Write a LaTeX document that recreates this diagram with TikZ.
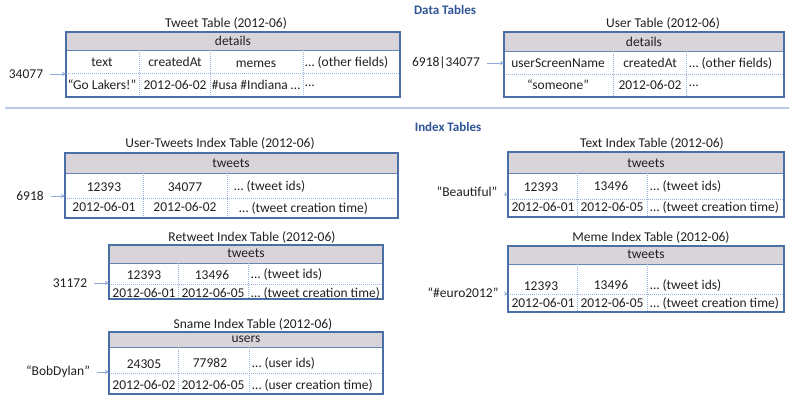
\documentclass[tikz,border=0pt]{standalone}
\usepackage{fontspec}
\setmainfont{Carlito}
\usetikzlibrary{arrows.meta}
\definecolor{frameblue}{HTML}{4A6FA5}
\definecolor{hdrgray}{HTML}{D9D4D9}
\definecolor{dotblue}{HTML}{9AB3DD}
\definecolor{arrblue}{HTML}{8EA9DB}
\definecolor{sepblue}{HTML}{B8CAE8}
\definecolor{headblue}{HTML}{2F5597}
\definecolor{txt}{HTML}{202020}
\begin{document}
\begin{tikzpicture}[x=1pt,y=-1pt,
  frame/.style={draw=frameblue,line width=1.4pt},
  hdr/.style={fill=hdrgray},
  hline/.style={draw=frameblue!85,line width=0.7pt},
  dots/.style={draw=dotblue,line width=0.6pt,dash pattern=on 1pt off 1pt},
  arr/.style={draw=arrblue,line width=0.6pt,-{Stealth[length=4pt,width=4pt]},shorten <=7pt},
  cell/.style={font=\fontsize{13.5}{14}\selectfont,text=txt,inner sep=0pt,anchor=center},
  lcell/.style={cell,anchor=west},
  ttl/.style={cell},
  key/.style={cell},
  sect/.style={font=\fontsize{13}{14}\selectfont\bfseries,text=headblue,inner sep=0pt}]
\useasboundingbox (0,0) rectangle (789,397);

% section headings and divider
\node[sect] (dt) at (445,10) {Data Tables};
\node[sect] (it) at (448,127) {Index Tables};
\coordinate (divl) at (5,108);
\coordinate (divr) at (789,108);
\draw[sepblue,line width=1.6pt] (divl) -- (divr);

% ---------------- Tweet Table ----------------
\fill[hdr] (66,32) rectangle (400,50);
\draw[hline] (66,50) -- (400,50);
\draw[dots] (66,73) -- (400,73);
\foreach \c in {139,210,303} \draw[dots] (\c,50) -- (\c,97);
\draw[frame] (66,32) rectangle (400,97);
\node[ttl] (tw-t) at (226,23) {Tweet Table (2012-06)};
\node[cell] (tw-h) at (233,41) {details};
\node[cell] (tw-a1) at (102,62) {text};
\node[cell] (tw-b1) at (175,62) {createdAt};
\node[cell] (tw-c1) at (256,64) {memes};
\node[lcell] (tw-d1) at (305,62) {… (other fields)};
\node[cell] (tw-a2) at (102,85) {“Go Lakers!”};
\node[cell] (tw-b2) at (175,85) {2012-06-02};
\node[cell] (tw-c2) at (256,85) {\#usa \#Indiana …};
\node[lcell] (tw-d2) at (305,86) {…};
\node[key] (k-tw) at (26,74) {34077};
\coordinate (tw-in) at (66,74);
\draw[arr] (k-tw.east) -- (tw-in);

% ---------------- User Table ----------------
\fill[hdr] (504,32) rectangle (784,51);
\draw[hline] (504,51) -- (784,51);
\draw[dots] (504,74) -- (784,74);
\foreach \c in {613,686} \draw[dots] (\c,51) -- (\c,97);
\draw[frame] (504,32) rectangle (784,97);
\node[ttl] (us-t) at (663,23) {User Table (2012-06)};
\node[cell] (us-h) at (644,42) {details};
\node[cell] (us-a1) at (558,63) {userScreenName};
\node[cell] (us-b1) at (650,63) {createdAt};
\node[lcell] (us-c1) at (689,63) {… (other fields)};
\node[cell] (us-a2) at (558,85) {“someone”};
\node[cell] (us-b2) at (650,85) {2012-06-02};
\node[lcell] (us-c2) at (689,86) {…};
\node[key] (k-us) at (446,63) {6918|34077};
\coordinate (us-in) at (504,63);
\draw[arr] (k-us.east) -- (us-in);

% ---------------- User-Tweets Index Table ----------------
\fill[hdr] (65,153) rectangle (398,173);
\draw[hline] (65,173) -- (398,173);
\draw[dots] (65,198) -- (398,198);
\foreach \c in {143,227} \draw[dots] (\c,173) -- (\c,218);
\draw[frame] (65,153) rectangle (398,218);
\node[ttl] (ut-t) at (220,143) {User-Tweets Index Table (2012-06)};
\node[cell] (ut-h) at (231,163) {tweets};
\node[cell] (ut-a1) at (104,187) {12393};
\node[cell] (ut-b1) at (185,187) {34077};
\node[lcell] (ut-c1) at (234,186) {… (tweet ids)};
\node[cell] (ut-a2) at (104,207) {2012-06-01};
\node[cell] (ut-b2) at (185,207) {2012-06-02};
\node[lcell] (ut-c2) at (239,208) {… (tweet creation time)};
\node[key] (k-ut) at (30,196) {6918};
\coordinate (ut-in) at (65,196);
\draw[arr] (k-ut.east) -- (ut-in);

% ---------------- Retweet Index Table ----------------
\fill[hdr] (109,245) rectangle (383,263);
\draw[hline] (109,263) -- (383,263);
\draw[dots] (109,284) -- (383,284);
\foreach \c in {178,248} \draw[dots] (\c,263) -- (\c,299);
\draw[frame] (109,245) rectangle (383,299);
\node[ttl] (rt-t) at (252,237) {Retweet Index Table (2012-06)};
\node[cell] (rt-h) at (246,253) {tweets};
\node[cell] (rt-a1) at (144,275) {12393};
\node[cell] (rt-b1) at (212,275) {13496};
\node[lcell] (rt-c1) at (251,274) {… (tweet ids)};
\node[cell] (rt-a2) at (144,293) {2012-06-01};
\node[cell] (rt-b2) at (213,293) {2012-06-05};
\node[lcell] (rt-c2) at (251,293) {… (tweet creation time)};
\node[key] (k-rt) at (70,283) {31172};
\coordinate (rt-in) at (109,283);
\draw[arr] (k-rt.east) -- (rt-in);

% ---------------- Sname Index Table ----------------
\fill[hdr] (109,332) rectangle (383,347);
\draw[hline] (109,347) -- (383,347);
\draw[dots] (109,373) -- (383,373);
\foreach \c in {178,249} \draw[dots] (\c,347) -- (\c,394);
\draw[frame] (109,332) rectangle (383,394);
\node[ttl] (sn-t) at (253,324) {Sname Index Table (2012-06)};
\node[cell] (sn-h) at (246,339) {users};
\node[cell] (sn-a1) at (144,364) {24305};
\node[cell] (sn-b1) at (210,363) {77982};
\node[lcell] (sn-c1) at (252,363) {… (user ids)};
\node[cell] (sn-a2) at (144,385) {2012-06-02};
\node[cell] (sn-b2) at (213,385) {2012-06-05};
\node[lcell] (sn-c2) at (252,385) {… (user creation time)};
\node[key] (k-sn) at (58,372) {“BobDylan”};
\coordinate (sn-in) at (109,372);
\draw[arr] (k-sn.east) -- (sn-in);

% ---------------- Text Index Table ----------------
\fill[hdr] (508,152) rectangle (784,173);
\draw[hline] (508,173) -- (784,173);
\draw[dots] (508,199) -- (784,199);
\foreach \c in {577,647} \draw[dots] (\c,173) -- (\c,217);
\draw[frame] (508,152) rectangle (784,217);
\node[ttl] (tx-t) at (652,143) {Text Index Table (2012-06)};
\node[cell] (tx-h) at (646,163) {tweets};
\node[cell] (tx-a1) at (541,187) {12393};
\node[cell] (tx-b1) at (611,186) {13496};
\node[lcell] (tx-c1) at (650,186) {… (tweet ids)};
\node[cell] (tx-a2) at (543,207) {2012-06-01};
\node[cell] (tx-b2) at (612,207) {2012-06-05};
\node[lcell] (tx-c2) at (650,207) {… (tweet creation time)};
\node[key] (k-tx) at (467,192) {“Beautiful”};
\coordinate (tx-in) at (508,195);
\draw[arr] (k-tx.east) -- (tx-in);

% ---------------- Meme Index Table ----------------
\fill[hdr] (508,246) rectangle (784,264);
\draw[hline] (508,264) -- (784,264);
\draw[dots] (508,294) -- (784,294);
\foreach \c in {577,647} \draw[dots] (\c,264) -- (\c,312);
\draw[frame] (508,246) rectangle (784,312);
\node[ttl] (me-t) at (651,237) {Meme Index Table (2012-06)};
\node[cell] (me-h) at (646,254) {tweets};
\node[cell] (me-a1) at (541,286) {12393};
\node[cell] (me-b1) at (611,285) {13496};
\node[lcell] (me-c1) at (650,285) {… (tweet ids)};
\node[cell] (me-a2) at (543,303) {2012-06-01};
\node[cell] (me-b2) at (612,303) {2012-06-05};
\node[lcell] (me-c2) at (650,303) {… (tweet creation time)};
\node[key] (k-me) at (463,293) {“\#euro2012”};
\coordinate (me-in) at (508,294);
\draw[arr] (k-me.east) -- (me-in);
\end{tikzpicture}
\end{document}
